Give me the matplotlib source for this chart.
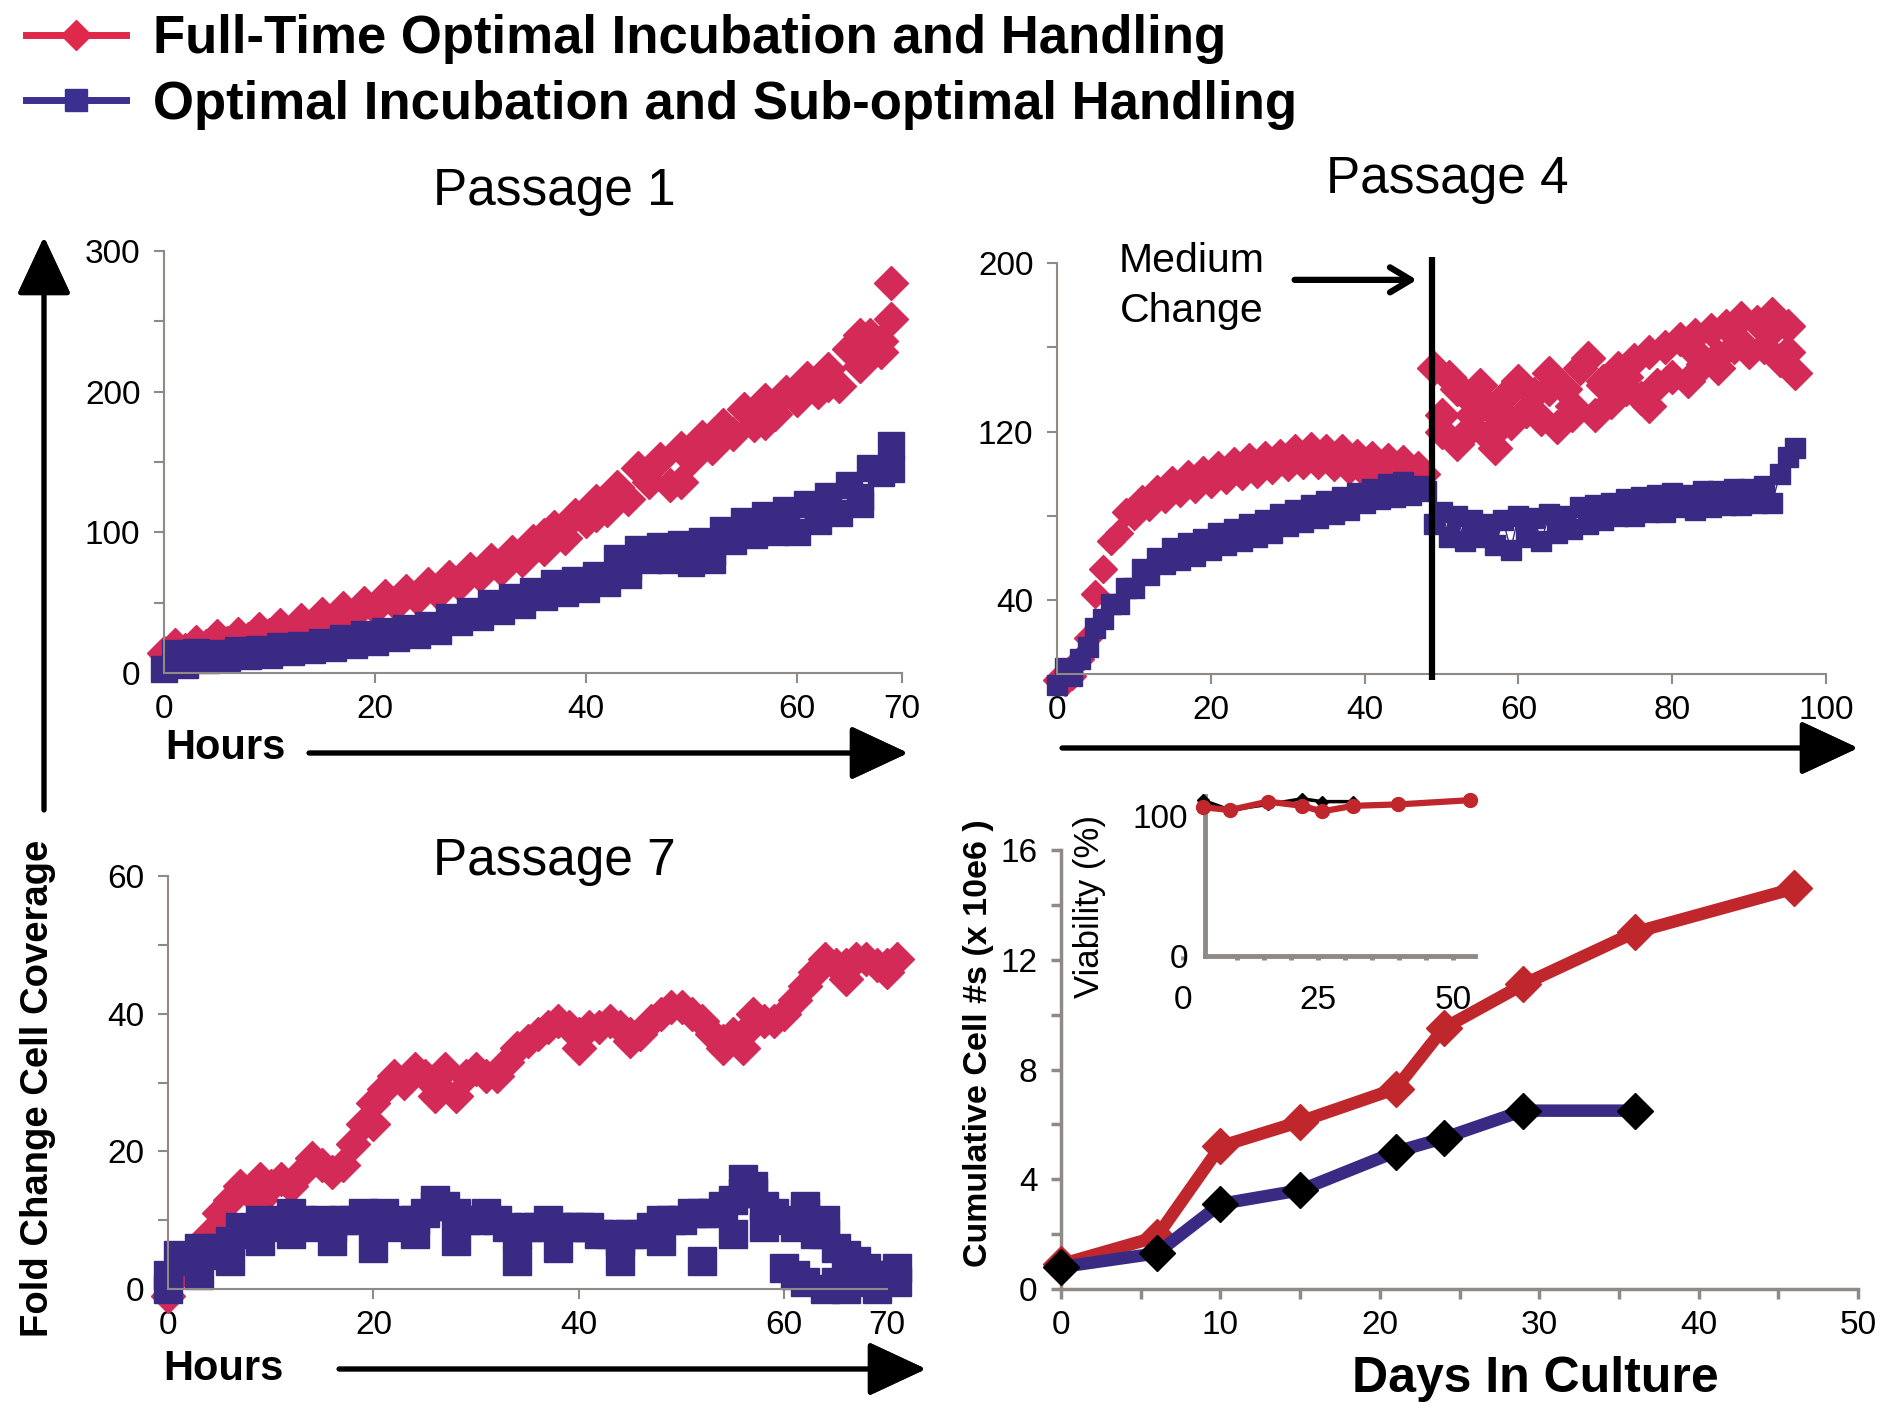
import numpy as np
import matplotlib
matplotlib.use('Agg')
import matplotlib.pyplot as plt
from matplotlib.lines import Line2D
from matplotlib.ticker import MultipleLocator, FixedLocator

plt.rcParams['font.family'] = ['Liberation Sans', 'DejaVu Sans']

RED = '#d42a58'
BLUE = '#3a2a84'
DARK_RED = '#c0272d'
GREY = '#8f8a86'

# ---------------- data (hourly readings) ----------------
# Passage 1
p1_red = [14, 20, 16, 22, 19, 26, 21, 28, 24, 31,
          27, 34, 30, 38, 33, 42, 37, 46, 42, 50,
          46, 55, 49, 58, 53, 63, 57, 68, 63, 74,
          70, 80, 74, 86, 80, 94, 88, 104, 96, 112,
          108, 122, 116, 132, 124, 146, 136, 152, 134, 160,
          152, 168, 160, 176, 170, 188, 176, 194, 184, 200,
          194, 210, 200, 216, 204, 230, 218, 240, 228, 252]
p1_red_extra_h = [36, 41, 49, 57, 63, 66, 68, 69]
p1_red_extra_v = [98, 112, 136, 178, 205, 240, 236, 277]
p1_blue = [3, 14, 6, 15, 9, 14, 11, 16, 12, 17,
           13, 19, 15, 20, 16, 22, 18, 25, 20, 28,
           22, 30, 25, 32, 27, 34, 30, 40, 36, 44,
           40, 50, 44, 54, 48, 58, 54, 64, 57, 66,
           60, 70, 64, 82, 76, 88, 80, 90, 80, 92,
           78, 94, 86, 102, 94, 108, 98, 112, 104, 116,
           100, 120, 108, 126, 114, 134, 120, 146, 142, 162]
p1_blue_extra_h = [44, 52, 58, 62, 66, 69]
p1_blue_extra_v = [70, 80, 100, 118, 125, 145]

# Passage 4 (medium change just before 49 h)
p4_red_pre = [2, 1, 4, 12, 22, 43, 55, 68, 72, 82,
              80, 88, 84, 93, 88, 97, 91, 100, 93, 102,
              95, 104, 97, 106, 99, 108, 100, 109, 102, 110,
              103, 112, 104, 113, 104, 112, 103, 112, 102, 110,
              100, 109, 99, 108, 99, 107, 97, 104, 100]
p4_red_post = [150, 120, 146, 114, 138, 128, 142, 118, 112, 136,
               124, 144, 130, 138, 126, 148, 122, 140, 132, 150,
               155, 128, 144, 134, 150, 140, 154, 136, 158, 142,
               160, 146, 164, 144, 166, 152, 168, 156, 170, 160,
               174, 158, 172, 160, 176, 154, 170, 148]
p4_red_post_extra_h = [50, 52, 54, 56, 58, 61, 64, 67, 71, 74, 77, 83, 86, 89, 93, 95]
p4_red_post_extra_v = [128, 140, 122, 132, 124, 130, 140, 128, 142, 146, 132, 158, 150, 162, 168, 158]
p4_blue_pre = [0, 8, 4, 12, 18, 27, 31, 38, 38, 46,
               46, 55, 52, 60, 57, 65, 59, 67, 61, 69,
               64, 72, 66, 74, 68, 76, 70, 78, 72, 81,
               75, 83, 77, 85, 79, 87, 81, 89, 83, 91,
               86, 93, 88, 95, 89, 96, 90, 94, 92]
p4_blue_post = [76, 82, 70, 80, 68, 78, 70, 76, 66,
                78, 64, 80, 70, 79, 68, 81, 72, 80, 74,
                84, 76, 85, 78, 86, 80, 88, 80, 89, 82,
                90, 82, 91, 84, 90, 83, 92, 84, 92, 85,
                93, 85, 93, 86, 94, 86, 100, 108, 112]
medium_change_h = 48.8

# Passage 7
p7_red = [-1, 2, 4, 6, 8, 11, 13, 15, 14, 16,
          15, 16, 15, 17, 19, 18, 17, 18, 21, 24,
          27, 29, 31, 30, 32, 31, 30, 32, 28, 31,
          32, 31, 31, 33, 35, 36, 37, 38, 39, 38,
          37, 38, 38, 39, 38, 37, 37, 39, 40, 41,
          41, 40, 39, 37, 36, 37, 37, 40, 39, 39,
          40, 42, 44, 46, 48, 47, 47, 48, 48, 47,
          47, 48]
p7_red_extra_h = [5, 9, 20, 26, 40, 45, 54, 56, 66, 70]
p7_red_extra_v = [9, 13, 24, 28, 35, 36, 35, 35, 45, 46]
p7_blue = [2, 5, 4, 6, 5, 6, 7, 9, 8, 10,
           9, 10, 11, 10, 9, 10, 9, 10, 10, 11,
           10, 11, 9, 10, 10, 11, 12, 12, 11, 10,
           10, 11, 10, 9, 8, 9, 9, 10, 9, 9,
           9, 9, 8, 8, 7, 8, 8, 9, 10, 10,
           10, 11, 11, 11, 12, 13, 14, 14, 12, 11,
           10, 9, 11, 9, 8, 6, 5, 4, 3, 2,
           2, 3]
p7_blue_extra_h = [0, 3, 6, 9, 12, 16, 20, 24, 26, 28, 34, 38, 44, 48, 52, 55,
                   56, 57, 58, 60, 61, 62, 62, 63, 64, 64, 65, 66, 67, 69, 71]
p7_blue_extra_v = [0, 2, 4, 7, 8, 7, 6, 8, 13, 7, 4, 6, 4, 7, 4, 8,
                   16, 15, 9, 3, 2, 1, 12, 8, 0, 10, 1, 0, 1, 0, 1]

# Cumulative cell numbers (x 10e6)
days = [0, 6, 10, 15, 21, 24, 29, 36, 46]
cum_full = [0.9, 1.9, 5.2, 6.1, 7.3, 9.5, 11.1, 13.0, 14.6]
cum_sub = [0.8, 1.3, 3.1, 3.6, 5.0, 5.5, 6.5, 6.5]

# Viability inset
via_days_full = [3.7, 8.7, 15.7, 22.0, 25.7, 31.5, 39.8, 53.0]
via_full = [106, 104, 110, 107, 103, 107, 108, 111]
via_days_sub = [3.7, 8.7, 15.7, 22.0, 25.7, 31.5]
via_sub = [111, 104, 108, 112, 110, 110]

# ---------------- figure ----------------
W, H = 1880, 1406
fig = plt.figure(figsize=(W / 100, H / 100), dpi=100)


def px_axes(left, top, right, bottom):
    return fig.add_axes([left / W, 1 - bottom / H, (right - left) / W, (bottom - top) / H])


def px_text(x, y, s, **kw):
    return fig.text(x / W, 1 - y / H, s, ha='center', va='center', **kw)


def style(ax, lw=1.5, size=24):
    for s in ['top', 'right']:
        ax.spines[s].set_visible(False)
    for s in ['left', 'bottom']:
        ax.spines[s].set_color(GREY)
        ax.spines[s].set_linewidth(lw)
    ax.tick_params(which='both', direction='out', color=GREY, width=lw,
                   labelsize=size, length=7)
    ax.tick_params(axis='y', pad=10)
    ax.tick_params(axis='x', pad=8)


def arrow(x0, y0, x1, y1):
    fig.add_artist(plt.annotate('', xy=(x1, H - y1), xytext=(x0, H - y0),
                                xycoords='figure pixels', textcoords='figure pixels',
                                arrowprops=dict(arrowstyle='-|>,head_length=0.75,head_width=0.35',
                                                lw=3.5, color='black', mutation_scale=48,
                                                shrinkA=0, shrinkB=0)))


# Passage 1
ax1 = px_axes(164, 251, 902, 673)
h = np.arange(len(p1_red))
ax1.plot(h, p1_red, ls='none', marker='D', ms=17, color=RED, clip_on=False)
ax1.plot(p1_red_extra_h, p1_red_extra_v, ls='none', marker='D', ms=17, color=RED, clip_on=False)
h = np.arange(len(p1_blue))
ax1.plot(h, p1_blue, ls='none', marker='s', ms=19, color=BLUE, clip_on=False)
ax1.plot(p1_blue_extra_h, p1_blue_extra_v, ls='none', marker='s', ms=19, color=BLUE, clip_on=False)
ax1.set_xlim(0, 70)
ax1.set_ylim(0, 300)
ax1.xaxis.set_major_locator(FixedLocator([0, 20, 40, 60, 70]))
ax1.yaxis.set_major_locator(MultipleLocator(100))
ax1.yaxis.set_minor_locator(MultipleLocator(50))
style(ax1)
px_text(554, 192, 'Passage 1', fontsize=37)

# Passage 4
ax4 = px_axes(1057, 263, 1826, 674)
h_pre = np.arange(len(p4_red_pre))
h_post = np.arange(len(p4_red_pre), len(p4_red_pre) + len(p4_red_post))
ax4.plot(h_pre, p4_red_pre, ls='none', marker='D', ms=14, color=RED, clip_on=False)
ax4.plot(h_post, p4_red_post, ls='none', marker='D', ms=17, color=RED, clip_on=False)
ax4.plot(p4_red_post_extra_h, p4_red_post_extra_v, ls='none', marker='D', ms=17, color=RED,
         clip_on=False)
h_pre = np.arange(len(p4_blue_pre))
h_post = np.arange(len(p4_blue_pre), len(p4_blue_pre) + len(p4_blue_post))
ax4.plot(h_pre, p4_blue_pre, ls='none', marker='s', ms=14, color=BLUE, clip_on=False)
ax4.plot(h_post, p4_blue_post, ls='-', lw=1, marker='s', ms=15, color=BLUE, clip_on=False)
ax4.vlines(medium_change_h, 2, 203, color='black', lw=4.5, zorder=5, clip_on=False)
ax4.set_xlim(0, 100)
ax4.set_ylim(5, 200)
ax4.xaxis.set_major_locator(MultipleLocator(20))
ax4.yaxis.set_major_locator(FixedLocator([40, 120, 200]))
ax4.yaxis.set_minor_locator(FixedLocator([80, 160]))
style(ax4)
px_text(1447, 180, 'Passage 4', fontsize=37)
ax4.text(17.5, 189, 'Medium\nChange', fontsize=29.5, ha='center', va='center', linespacing=1.4)
ax4.annotate('', xy=(46.8, 192), xytext=(30.9, 192),
             arrowprops=dict(arrowstyle='->,head_length=0.5,head_width=0.3', lw=4.5,
                             color='black', mutation_scale=30, shrinkA=0, shrinkB=0))

# Passage 7
ax7 = px_axes(168, 876, 887, 1289)
h = np.arange(len(p7_red))
ax7.plot(h, p7_red, ls='none', marker='D', ms=17, color=RED, clip_on=False)
ax7.plot(p7_red_extra_h, p7_red_extra_v, ls='none', marker='D', ms=17, color=RED, clip_on=False)
h = np.arange(len(p7_blue))
ax7.plot(h, p7_blue, ls='none', marker='s', ms=20, color=BLUE, clip_on=False)
ax7.plot(p7_blue_extra_h, p7_blue_extra_v, ls='none', marker='s', ms=20, color=BLUE, clip_on=False)
ax7.set_xlim(0, 70)
ax7.set_ylim(0, 60)
ax7.xaxis.set_major_locator(FixedLocator([0, 20, 40, 60, 70]))
ax7.yaxis.set_major_locator(MultipleLocator(20))
ax7.yaxis.set_minor_locator(MultipleLocator(10))
style(ax7)
px_text(554, 861, 'Passage 7', fontsize=37)

# Cumulative cell numbers
axc = px_axes(1061, 850, 1858, 1289)
axc.plot(days, cum_full, color=DARK_RED, lw=9, marker='D', ms=18, mfc=DARK_RED,
         mec=DARK_RED, zorder=3, clip_on=False)
axc.plot(days[:len(cum_sub)], cum_sub, color=BLUE, lw=9, marker='D', ms=18, mfc='black',
         mec='black', zorder=4, clip_on=False)
axc.set_xlim(0, 50)
axc.set_ylim(0, 16)
axc.xaxis.set_major_locator(MultipleLocator(10))
axc.xaxis.set_minor_locator(MultipleLocator(5))
axc.yaxis.set_major_locator(MultipleLocator(4))
axc.yaxis.set_minor_locator(MultipleLocator(2))
style(axc, lw=2.5)
px_text(1535, 1379, 'Days In Culture', fontsize=36, weight='bold')
px_text(979, 1043, 'Cumulative Cell #s (x 10e6 )', fontsize=24.5, weight='bold', rotation=90)

# Viability inset
axi = px_axes(1183, 796, 1475, 956)
axi.plot(via_days_sub, via_sub, color='black', lw=2.5, marker='D', ms=6, zorder=3, clip_on=False)
axi.plot(via_days_full, via_full, color=DARK_RED, lw=4.5, marker='o', ms=10, zorder=4, clip_on=False)
axi.set_xlim(0, 54)
axi.set_ylim(0, 114)
axi.spines['left'].set_position(('data', 4))
style(axi, lw=3.5)
axi.spines['bottom'].set_bounds(4, 54)
axi.xaxis.set_major_locator(FixedLocator([0, 25, 50]))
axi.xaxis.set_minor_locator(FixedLocator([10, 15, 20, 30, 35, 40, 45]))
axi.yaxis.set_major_locator(FixedLocator([0, 100]))
axi.tick_params(axis='y', length=0, pad=12)
axi.tick_params(axis='x', which='both', length=3, pad=18)
px_text(1089, 906, 'Viability (%)', fontsize=25, rotation=90)

# overall labels and arrows
px_text(225, 748, 'Hours', fontsize=30, weight='bold')
px_text(223, 1369, 'Hours', fontsize=30, weight='bold')
px_text(38, 1088, 'Fold Change Cell Coverage', fontsize=27.5, weight='bold', rotation=90)
arrow(44, 810, 44, 237)
arrow(309, 753, 908, 753)
arrow(1062, 748, 1858, 748)
arrow(339, 1369, 926, 1369)

# legend
handles = [Line2D([], [], color='#e0284a', lw=5, marker='D', ms=15),
           Line2D([], [], color='#3b2f8f', lw=5, marker='s', ms=16)]
fig.legend(handles, ['Full-Time Optimal Incubation and Handling',
                     'Optimal Incubation and Sub-optimal Handling'],
           loc='upper left', bbox_to_anchor=(26 / W, 1 - 14 / H), frameon=False,
           prop=dict(weight='bold', size=38), handlelength=1.9, handletextpad=0.5,
           labelspacing=0.3, borderpad=0, borderaxespad=0)

fig.savefig('out.png', dpi=100)
